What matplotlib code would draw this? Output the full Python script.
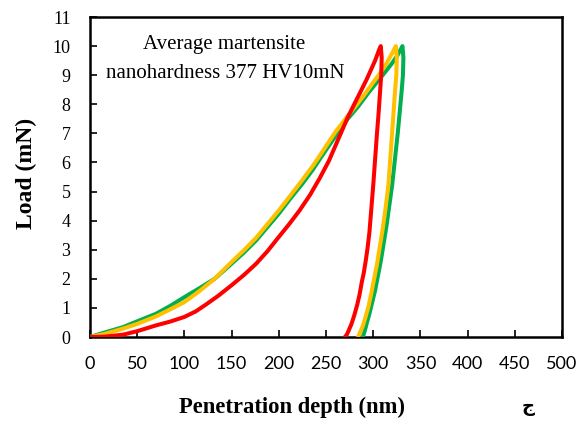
import matplotlib
matplotlib.use("Agg")
import matplotlib.pyplot as plt

# ---- data ----
red_depth = [0, 15, 35, 50, 70, 85, 100, 112, 123, 136, 150, 163, 176, 188, 200, 211, 222, 233,
             243, 253, 263, 273, 283, 293, 302, 306, 308,
             309, 308.5, 307, 305.5, 304, 302, 300, 298, 296, 294, 292, 290, 288, 285.5, 283,
             280, 277, 274, 272, 270]
red_load = [0, 0.01, 0.08, 0.2, 0.4, 0.53, 0.69, 0.88, 1.12, 1.42, 1.78, 2.13, 2.52, 2.95, 3.44,
            3.88, 4.35, 4.88, 5.44, 6.05, 6.8, 7.55, 8.2, 8.85, 9.5, 9.85, 10.0,
            9.6, 9.0, 8.3, 7.6, 7.0, 6.1, 5.2, 4.4, 3.6, 3.05, 2.6, 2.2, 1.9, 1.45, 1.1,
            0.75, 0.45, 0.22, 0.08, 0]

green_depth = [0, 15, 35, 50, 70, 85, 100, 116, 132, 150, 163, 176, 188, 200, 212, 225, 236, 246,
               260, 273, 284, 295, 305, 313, 320, 326, 329, 331,
               332, 331.5, 330, 328, 326, 323, 320, 317, 314, 311, 308, 305, 302, 299, 296,
               293, 291, 289]
green_load = [0, 0.15, 0.34, 0.54, 0.8, 1.07, 1.37, 1.68, 2.0, 2.52, 2.9, 3.32, 3.78, 4.24, 4.75,
              5.27, 5.75, 6.24, 6.9, 7.5, 7.92, 8.4, 8.8, 9.12, 9.41, 9.7, 9.88, 10.0,
              9.6, 9.0, 8.4, 7.7, 7.0, 6.1, 5.2, 4.5, 3.8, 3.2, 2.6, 2.1, 1.6, 1.2, 0.8,
              0.45, 0.2, 0]

yellow_depth = [0, 15, 35, 50, 70, 85, 100, 116, 132, 150, 163, 176, 188, 200, 212, 225, 236, 246,
                260, 273, 281, 290, 300, 308, 314, 320, 324,
                325, 324.5, 323, 321.5, 320, 318, 316, 313, 310, 307, 304, 301, 298, 295, 292,
                289, 286, 284]
yellow_load = [0, 0.1, 0.29, 0.45, 0.71, 0.95, 1.2, 1.58, 2.0, 2.58, 2.98, 3.41, 3.88, 4.35, 4.85,
               5.4, 5.88, 6.36, 7.05, 7.6, 7.92, 8.3, 8.75, 9.1, 9.4, 9.75, 10.0,
               9.6, 9.0, 8.4, 7.7, 7.0, 6.1, 5.2, 4.4, 3.7, 3.1, 2.5, 2.0, 1.5, 1.05, 0.7,
               0.38, 0.15, 0]

x_ticks = list(range(0, 501, 50))
y_ticks = list(range(0, 12))

W, H = 585, 421
fig = plt.figure(figsize=(W / 100, H / 100), dpi=100)
ax = fig.add_axes([90 / W, 1 - 337 / H, (562 - 90) / W, (337 - 17) / H])

lw = 2.9
ax.plot(green_depth, green_load, color="#00B050", lw=lw, solid_joinstyle="round",
        solid_capstyle="round", zorder=3)
ax.plot(yellow_depth, yellow_load, color="#FFC000", lw=lw, solid_joinstyle="round",
        solid_capstyle="round", zorder=4)
ax.plot(red_depth, red_load, color="#FF0000", lw=lw, solid_joinstyle="round",
        solid_capstyle="round", zorder=5)

ax.set_xlim(0, 500)
ax.set_ylim(0, 11)
ax.set_xticks(x_ticks)
ax.set_yticks(y_ticks)
ax.set_xticklabels([str(v) for v in x_ticks], family="Lato", fontsize=13)
ax.set_yticklabels([str(v) for v in y_ticks], family="Liberation Serif", fontsize=13)
ax.tick_params(axis="both", direction="in", length=5, width=1.2, color="black")
ax.tick_params(axis="x", pad=14)
ax.tick_params(axis="y", pad=14)
for s in ax.spines.values():
    s.set_linewidth(1.8)
    s.set_color("black")

fig.text(292 / W, 1 - 407 / H, "Penetration depth (nm)", family="Liberation Serif",
         fontweight="bold", fontsize=16.3, ha="center", va="center")
fig.text(26 / W, 1 - 173 / H, "Load (mN)", family="Liberation Serif",
         fontweight="bold", fontsize=17, ha="center", va="center", rotation=90)
fig.text(224 / W, 1 - 45 / H, "Average martensite", family="Liberation Serif",
         fontsize=15, ha="center", va="center")
fig.text(225 / W, 1 - 73 / H, "nanohardness 377 HV10mN", family="Liberation Serif",
         fontsize=15, ha="center", va="center")
fig.text(528 / W, 1 - 407 / H, "ج", family="DejaVu Sans", fontweight="bold",
         fontsize=13, ha="center", va="center")

fig.savefig("out.png", dpi=100)
